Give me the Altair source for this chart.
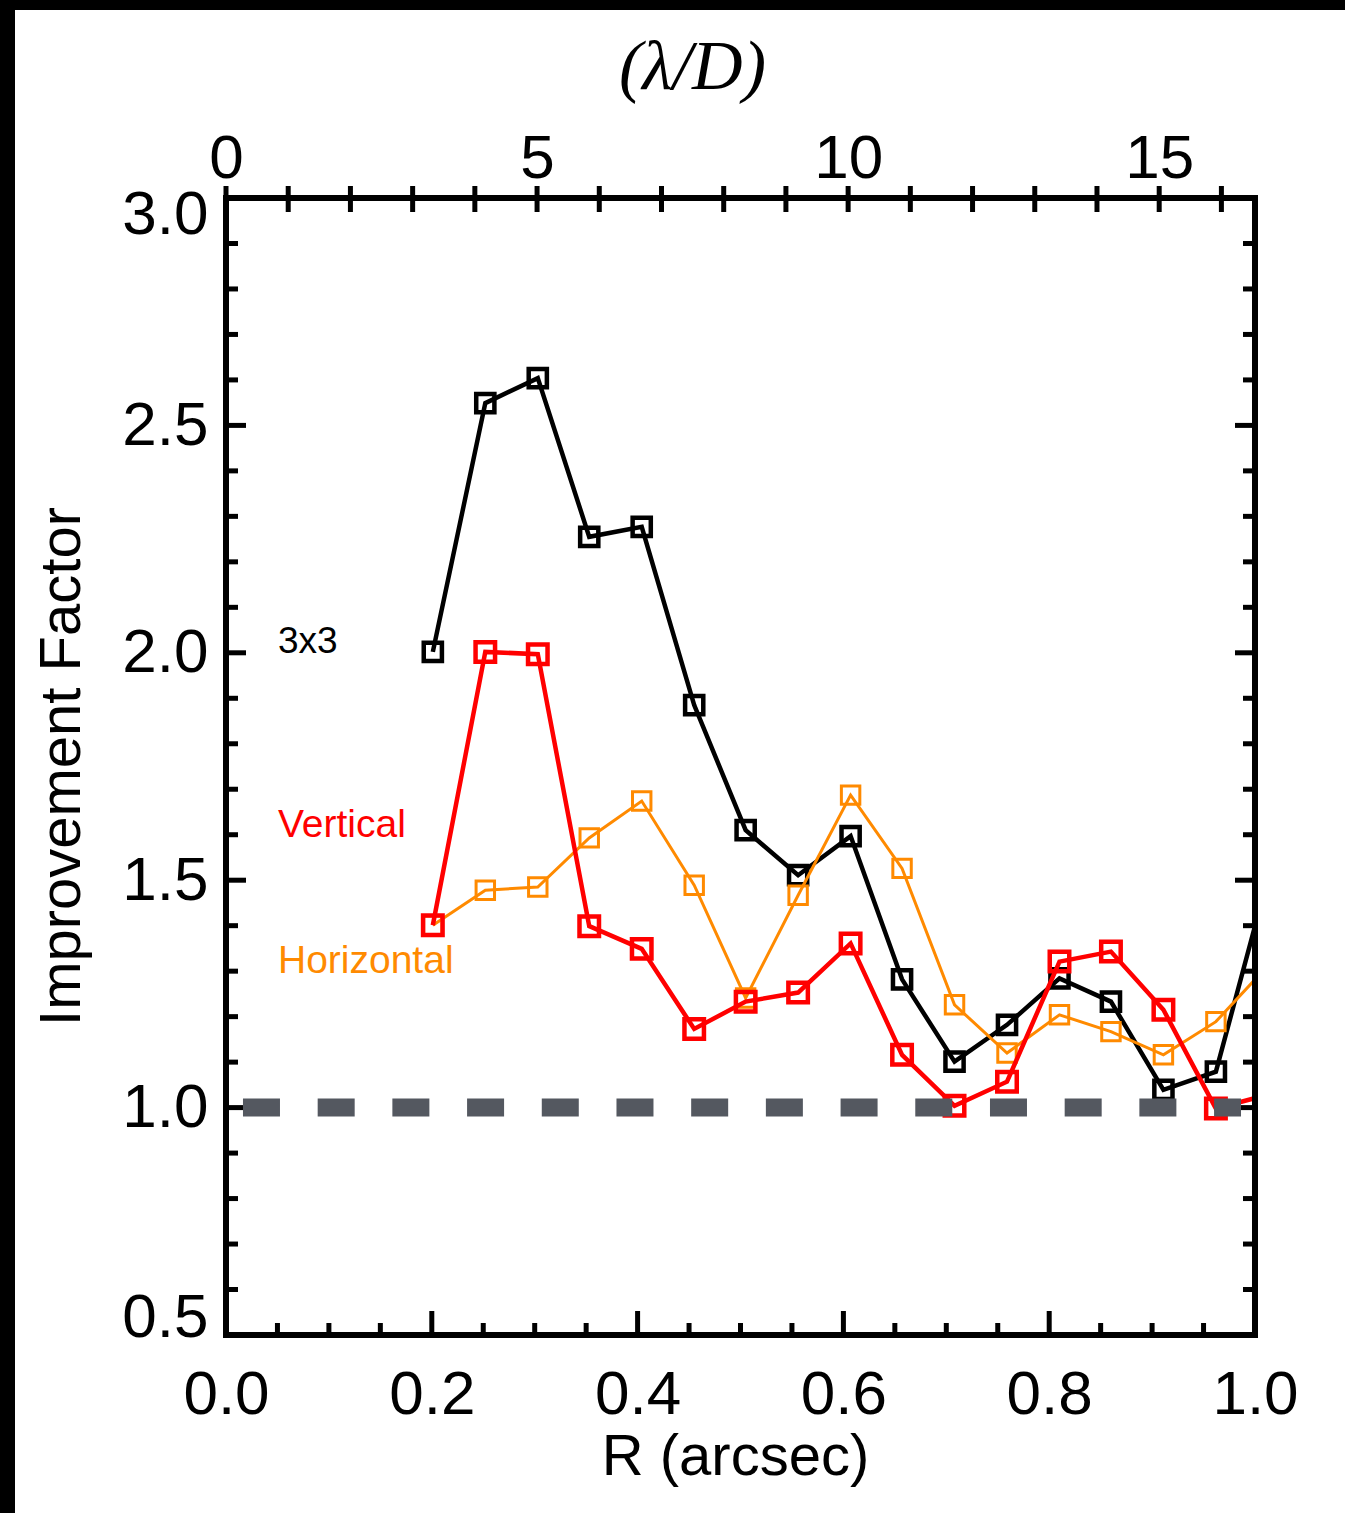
import altair as alt
import pandas as pd

# ---------------- data ----------------
x_arcsec = [0.201, 0.252, 0.303, 0.353, 0.404, 0.455, 0.505, 0.556, 0.607,
            0.657, 0.708, 0.759, 0.810, 0.860, 0.911, 0.962, 1.012]
y_3x3 = [2.002, 2.549, 2.604, 2.255, 2.277, 1.885, 1.610, 1.511, 1.597,
         1.282, 1.101, 1.182, 1.284, 1.233, 1.039, 1.079, 1.500]
y_vertical = [1.401, 2.002, 1.997, 1.399, 1.349, 1.173, 1.233, 1.253, 1.361,
              1.116, 1.004, 1.057, 1.321, 1.343, 1.215, 0.998, 1.028]
y_horizontal = [1.401, 1.478, 1.485, 1.593, 1.674, 1.489, 1.241, 1.467, 1.687,
                1.526, 1.226, 1.120, 1.204, 1.167, 1.116, 1.189, 1.311]

ann_text = ["3x3", "Vertical", "Horizontal"]
ann_x = [0.0505, 0.0505, 0.0505]
ann_y = [2.0, 1.595, 1.296]
ann_color = ["#000000", "#ff0000", "#ff8a00"]
ann_size = [37, 39, 39]

ref_x = [0.0165]
ref_x2 = [0.9864]
ref_y = [1.0]

bottom_major = [0.0, 0.2, 0.4, 0.6, 0.8, 1.0]
bottom_minor = [0.05, 0.1, 0.15, 0.25, 0.3, 0.35, 0.45, 0.5, 0.55,
                0.65, 0.7, 0.75, 0.85, 0.9, 0.95]
y_major = [0.5, 1.0, 1.5, 2.0, 2.5, 3.0]
y_minor = [0.6, 0.7, 0.8, 0.9, 1.1, 1.2, 1.3, 1.4, 1.6, 1.7, 1.8, 1.9,
           2.1, 2.2, 2.3, 2.4, 2.6, 2.7, 2.8, 2.9]
top_ticks = [0, 1, 2, 3, 4, 5, 6, 7, 8, 9, 10, 11, 12, 13, 14, 15, 16]
top_labels = [0, 5, 10, 15]
top_max = 16.54

# ---------------- layout ----------------
W, H = 1029, 1137
FONT = "Liberation Sans"

xscale = alt.Scale(domain=[0, 1], nice=False, zero=False)
yscale = alt.Scale(domain=[0.5, 3.0], nice=False, zero=False)

xaxis = alt.Axis(values=bottom_major, format=".1f", labelFont=FONT, labelFontSize=62,
                 labelColor="black", labelBaseline="alphabetic", labelPadding=78,
                 labelFlush=False, labelOverlap=False, ticks=False, tickSize=0,
                 domain=False, grid=False, title="R (arcsec)", titleFont=FONT,
                 titleFontSize=58, titleFontWeight="normal", titleColor="black",
                 titleX=509, titleY=139, titleBaseline="alphabetic", titleAlign="center",
                 zindex=1)
yaxis = alt.Axis(values=y_major, format=".1f", labelFont=FONT, labelFontSize=62,
                 labelColor="black", labelPadding=18, labelFlush=True, labelFlushOffset=14,
                 labelOverlap=False, ticks=False, tickSize=0, domain=False, grid=False,
                 title="Improvement Factor", titleFont=FONT, titleFontSize=58,
                 titleFontWeight="normal", titleColor="black", titleAngle=270,
                 titleX=-147, titleY=568, titleBaseline="alphabetic", titleAlign="center",
                 zindex=1)

def X(field="x"):
    return alt.X(f"{field}:Q", scale=xscale, axis=xaxis)

def Y(field="y"):
    return alt.Y(f"{field}:Q", scale=yscale, axis=yaxis)

one = pd.DataFrame({"a": [0]})

bg = alt.Chart(one).mark_rect(color="white", clip=False).encode(
    x=alt.value(-211), x2=alt.value(W + 95), y=alt.value(-188), y2=alt.value(H + 180))

tick_color = "black"
bmaj = alt.Chart(pd.DataFrame({"x": bottom_major})).mark_rule(
    color=tick_color, strokeWidth=5).encode(x=X(), y=alt.value(H), y2=alt.value(H - 24))
bmin = alt.Chart(pd.DataFrame({"x": bottom_minor})).mark_rule(
    color=tick_color, strokeWidth=5).encode(x=X(), y=alt.value(H), y2=alt.value(H - 12))
lmaj = alt.Chart(pd.DataFrame({"y": y_major})).mark_rule(
    color=tick_color, strokeWidth=5).encode(y=Y(), x=alt.value(0), x2=alt.value(20))
lmin = alt.Chart(pd.DataFrame({"y": y_minor})).mark_rule(
    color=tick_color, strokeWidth=5).encode(y=Y(), x=alt.value(0), x2=alt.value(12))
rmaj = alt.Chart(pd.DataFrame({"y": y_major})).mark_rule(
    color=tick_color, strokeWidth=5).encode(y=Y(), x=alt.value(W), x2=alt.value(W - 20))
rmin = alt.Chart(pd.DataFrame({"y": y_minor})).mark_rule(
    color=tick_color, strokeWidth=5).encode(y=Y(), x=alt.value(W), x2=alt.value(W - 12))

def series(yvals, color, lw, size, sw):
    df = pd.DataFrame({"x": x_arcsec, "y": yvals})
    line = alt.Chart(df).mark_line(color=color, strokeWidth=lw, clip=True).encode(x=X(), y=Y())
    pts = alt.Chart(df).mark_point(shape="square", filled=False, color=color, size=size,
                                   strokeWidth=sw, opacity=1, clip=True).encode(x=X(), y=Y())
    return [line, pts]

s_black = series(y_3x3, "#000000", 4.5, 330, 4.5)
s_orange = series(y_horizontal, "#ff8a00", 3, 340, 3)
s_red = series(y_vertical, "#ff0000", 4.5, 380, 4.5)

ref = alt.Chart(pd.DataFrame({"x": ref_x, "x2": ref_x2, "y": ref_y})).mark_rule(
    color="#545860", strokeWidth=18, strokeDash=[37, 37.7], strokeCap="butt").encode(
    x=X(), x2="x2:Q", y=Y())

ann = alt.Chart(pd.DataFrame({"x": ann_x, "y": ann_y, "t": ann_text, "c": ann_color,
                              "s": ann_size})).mark_text(
    align="left", baseline="alphabetic", font=FONT).encode(
    x=X(), y=Y(), text="t:N", color=alt.Color("c:N", scale=None),
    size=alt.Size("s:Q", scale=None))

frame = alt.Chart(one).mark_rect(fillOpacity=0, stroke="black", strokeWidth=6, clip=False).encode(
    x=alt.value(0), x2=alt.value(W), y=alt.value(0), y2=alt.value(H))

main = alt.layer(bg, bmaj, bmin, lmaj, lmin, rmaj, rmin, *s_black, *s_orange, *s_red,
                 ref, ann, frame)

top = alt.Chart(pd.DataFrame({"ld": top_ticks})).mark_rule(
    color="black", strokeWidth=5).encode(
    x=alt.X("ld:Q", scale=alt.Scale(domain=[0, top_max], nice=False, zero=False),
            axis=alt.Axis(orient="top", values=top_labels, format="d", labelFont=FONT,
                          labelFontSize=62, labelColor="black", labelBaseline="alphabetic",
                          labelPadding=21, labelFlush=False, labelOverlap=False,
                          ticks=False, tickSize=0, domain=False, grid=False,
                          title="(λ/D)", titleFont="Liberation Serif",
                          titleFontStyle="italic", titleFontSize=70,
                          titleFontWeight="normal", titleColor="black",
                          titleX=466, titleY=-110, titleBaseline="alphabetic",
                          titleAlign="center", zindex=1)),
    y=alt.value(-12), y2=alt.value(14))

chart = alt.layer(main, top).resolve_scale(x="independent").properties(
    width=W, height=H,
    autosize=alt.AutoSizeParams(type="none"),
    padding={"left": 226, "top": 198, "right": 90, "bottom": 178},
    background="black",
).configure_view(stroke="transparent")

chart.save("out.html", embed_options={"renderer": "svg", "actions": False})
